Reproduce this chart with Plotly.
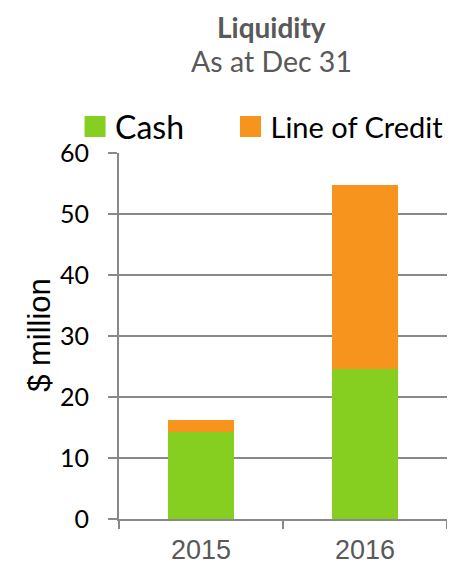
import plotly.graph_objects as go

# Data
years = ['2015', '2016']
cash = [14.3, 24.6]
line_of_credit = [2.0, 30.1]

GREEN = '#86CE1F'
ORANGE = '#F7941E'
GRID = '#898989'

fig = go.Figure()

# stacked bars
fig.add_trace(go.Bar(x=years, y=cash, marker_color=GREEN, marker_line_width=0,
                     showlegend=False, name='Cash'))
fig.add_trace(go.Bar(x=years, y=line_of_credit, marker_color=ORANGE, marker_line_width=0,
                     showlegend=False, name='Line of Credit'))

# legend entries (two legends, each with its own font size)
fig.add_trace(go.Scatter(x=[None], y=[None], mode='markers', name='Cash', legend='legend',
                         marker=dict(symbol='square', size=16, color=GREEN,
                                     line=dict(color=GREEN, width=5))))
fig.add_trace(go.Scatter(x=[None], y=[None], mode='markers', name='Line of Credit', legend='legend2',
                         marker=dict(symbol='square', size=16, color=ORANGE,
                                     line=dict(color=ORANGE, width=5))))

# page body adds an 8px margin, so the figure is 8px smaller each way
fig.update_layout(
    width=447, height=557,
    margin=dict(l=111, r=8, t=145, b=46, autoexpand=False),
    paper_bgcolor='white', plot_bgcolor='white',
    barmode='stack', bargap=0.6,
    legend=dict(x=-0.134, y=1.072, xanchor='left', yanchor='middle', orientation='h',
                bgcolor='rgba(0,0,0,0)',
                font=dict(family='Lato', size=32, color='black'), itemclick=False),
    legend2=dict(x=0.34, y=1.072, xanchor='left', yanchor='middle', orientation='h',
                 bgcolor='rgba(0,0,0,0)',
                 font=dict(family='Lato', size=29, color='black'), itemclick=False),
    annotations=[
        dict(text='<b>Liquidity</b>', xref='paper', yref='paper', x=0.466, y=1.344,
             showarrow=False, xanchor='center', yanchor='middle', borderpad=0,
             font=dict(family='Lato', size=28, color='#595959')),
        dict(text='As at Dec 31', xref='paper', yref='paper', x=0.466, y=1.252,
             showarrow=False, xanchor='center', yanchor='middle',
             font=dict(family='Lato', size=28.5, color='#595959')),
        dict(text='$ million', xref='paper', yref='paper', x=-0.241, y=0.503,
             showarrow=False, xanchor='center', yanchor='middle', textangle=-90,
             font=dict(family='Liberation Sans, Arial', size=31, color='black')),
    ],
)

fig.update_xaxes(type='category', categoryorder='array', categoryarray=years,
                 showline=True, linecolor=GRID, linewidth=2,
                 ticks='outside', tickson='boundaries', ticklen=8, tickcolor=GRID, tickwidth=2,
                 ticklabelstandoff=6,
                 tickfont=dict(family='Liberation Sans, Arial', size=27, color='#595959'),
                 showgrid=False, fixedrange=True)
fig.update_yaxes(range=[0, 60], dtick=10, showline=True, linecolor=GRID, linewidth=2,
                 ticks='outside', ticklen=9, tickcolor=GRID, tickwidth=2,
                 ticklabelstandoff=14,
                 showgrid=True, gridcolor=GRID, gridwidth=2, zeroline=False,
                 tickfont=dict(family='Lato', size=25, color='black'), fixedrange=True)

fig.write_html('out.html')
